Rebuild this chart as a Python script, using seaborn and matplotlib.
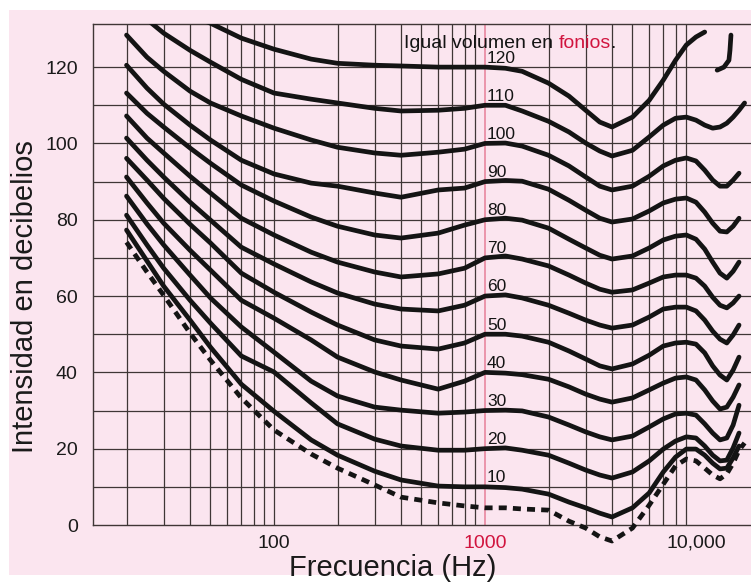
import pandas as pd
import matplotlib
matplotlib.use("Agg")
import matplotlib.pyplot as plt
from matplotlib.patches import Rectangle
from matplotlib.ticker import NullLocator
import seaborn as sns

# Frequencies (Hz) at which every contour is sampled
freq_hz = [20, 25, 30, 40, 50, 70, 100, 150, 200, 300, 400, 600, 800, 1000, 1250,
           1500, 2000, 2500, 3000, 3500, 4000, 5000, 6000, 7000, 8000, 9000,
           10000, 11000, 12000, 13000, 14000, 15000, 16000, 17000]
nan = float("nan")

# Threshold of hearing (dB)
threshold_db = [74.1, 66.3, 60.2, 50.3, 43.2, 33.3, 24.9, 18.6, 14.9, 10.5, 7.3, 5.8, 5.0, 4.5, 4.5,
                4.2, 3.9, 1.0, -0.8, -3.1, -4.2, -0.8, 5.2, 10.7, 15.5, 17.3,
                16.8, 14.9, 13.1, 12.1, 13.4, 16.2, 19.6, 21.5]

# Equal-loudness contours (dB) for each loudness level in phons
phon_10 = [77.3, 69.2, 62.6, 53.7, 46.6, 36.9, 29.8, 22.3, 18.3, 14.1, 11.8, 10.2, 10.0, 10.0, 9.8,
           9.4, 8.1, 6.0, 4.5, 3.1, 2.1, 4.5, 8.4, 13.9, 17.8, 19.9,
           19.9, 18.3, 16.2, 14.7, 14.9, 17.6, 20.7, nan]
phon_20 = [81.2, 73.4, 67.3, 58.9, 52.9, 44.3, 40.1, 32.0, 26.5, 22.5, 20.7, 19.6, 19.6, 20.0, 20.2,
           19.6, 18.3, 16.2, 14.4, 13.1, 12.3, 13.9, 16.8, 19.9, 22.0, 23.1,
           22.8, 20.7, 18.3, 16.8, 17.0, 20.2, 24.1, nan]
phon_30 = [86.2, 78.9, 73.4, 65.5, 59.5, 51.9, 45.3, 37.7, 33.8, 30.9, 30.1, 29.3, 29.6, 30.0, 30.1,
           29.9, 28.3, 26.2, 24.4, 23.1, 22.3, 23.3, 25.7, 27.8, 29.1, 29.3,
           28.8, 26.5, 24.1, 22.3, 22.8, 26.2, 31.4, nan]
phon_40 = [91.2, 84.4, 79.1, 72.0, 66.8, 58.9, 54.2, 48.5, 44.0, 40.1, 38.0, 35.6, 37.7, 40.0, 39.8,
           39.4, 38.2, 36.2, 34.3, 33.0, 32.2, 33.3, 35.4, 37.2, 38.5, 38.8,
           38.0, 35.4, 32.5, 30.4, 30.9, 33.5, 36.7, nan]
phon_50 = [96.1, 90.4, 85.6, 78.8, 73.9, 66.0, 61.0, 55.8, 52.4, 48.5, 46.9, 46.1, 47.7, 50.0, 50.0,
           49.5, 47.9, 45.6, 43.5, 41.7, 40.9, 42.2, 44.5, 46.9, 47.7, 47.9,
           47.4, 45.1, 41.7, 39.3, 38.0, 40.6, 44.0, nan]
phon_60 = [101.4, 95.6, 91.2, 84.6, 79.9, 72.8, 68.4, 63.7, 60.8, 57.9, 56.6, 56.1, 57.6, 60.0, 60.3,
           59.5, 57.6, 55.5, 53.7, 52.4, 51.6, 52.4, 54.5, 56.6, 57.1, 57.1,
           56.1, 53.7, 50.8, 48.7, 47.7, 49.8, 52.4, nan]
phon_70 = [107.2, 101.4, 97.5, 91.4, 87.0, 80.4, 76.0, 71.5, 68.9, 66.3, 65.0, 65.8, 67.3, 70.0, 70.5,
           69.7, 67.9, 65.5, 63.4, 61.8, 61.0, 61.6, 63.4, 65.0, 65.5, 65.5,
           64.7, 62.6, 59.7, 57.6, 56.9, 58.2, 60.0, nan]
phon_80 = [113.2, 107.9, 104.3, 98.8, 94.8, 89.1, 84.9, 80.7, 78.3, 76.0, 75.2, 76.5, 78.6, 80.0, 80.4,
           79.9, 77.8, 74.9, 72.6, 70.7, 69.7, 70.5, 72.6, 74.7, 75.7, 76.0,
           74.9, 72.3, 68.9, 66.0, 64.7, 66.5, 68.9, nan]
phon_90 = [120.5, 114.5, 110.3, 104.8, 100.9, 95.6, 92.0, 89.6, 88.8, 87.0, 85.9, 87.8, 88.3, 90.0, 90.3,
           90.1, 88.0, 85.1, 82.5, 80.4, 79.4, 80.2, 82.3, 84.4, 85.4, 85.7,
           84.6, 82.0, 79.1, 77.0, 76.8, 78.3, 80.4, nan]
phon_100 = [128.4, 122.6, 118.9, 113.7, 110.6, 107.2, 104.0, 100.9, 99.0, 97.5, 96.9, 97.7, 98.5, 100.0, 100.1,
            99.3, 96.9, 94.1, 91.2, 88.8, 87.8, 88.8, 91.4, 94.1, 95.6, 96.2,
            95.4, 93.0, 90.4, 88.8, 88.8, 90.4, 92.2, nan]
phon_110 = [nan, 132.5, 128.9, 124.4, 121.3, 116.8, 113.2, 111.6, 110.6, 109.2, 108.5, 108.7, 109.2, 110.0, 110.0,
            108.5, 105.8, 103.0, 100.1, 98.0, 96.7, 98.2, 101.7, 104.8, 106.6, 106.9,
            106.1, 104.8, 104.0, 104.3, 105.3, 106.9, 108.7, 110.6]
phon_120 = [nan, nan, nan, 133.6, 131.5, 127.6, 124.7, 122.1, 121.0, 120.5, 120.3, 120.0, 120.0, 120.0, 119.7,
            118.9, 115.8, 112.4, 108.7, 105.6, 104.3, 106.9, 111.3, 116.6, 121.8, 125.8,
            127.9, 129.2, nan, nan, nan, nan, nan, nan]
# Upper tail of the 120-phon contour at very high frequencies
phon_120_tail_hz = [12600, 13570, 14330, 14490, 14650]
phon_120_tail_db = [119.2, 120.0, 121.8, 124.4, 128.4]

contour_levels = [10, 20, 30, 40, 50, 60, 70, 80, 90, 100, 110, 120]
contour_values = [phon_10, phon_20, phon_30, phon_40, phon_50, phon_60,
                  phon_70, phon_80, phon_90, phon_100, phon_110, phon_120]

x_ticks = [100, 1000, 10000]
x_tick_labels = ["100", "1000", "10,000"]
y_ticks = [0, 20, 40, 60, 80, 100, 120]
grid_hz = [20, 30, 40, 50, 60, 70, 80, 90, 100,
           200, 300, 400, 500, 600, 700, 800, 900,
           2000, 3000, 4000, 5000, 6000, 7000, 8000, 9000]
grid_db = [10, 20, 30, 40, 50, 60, 70, 80, 90, 100, 110, 120]

PINK_BG = "#fbe5ef"
INK = "#141414"
GRID = "#3f3636"
RED = "#d1143e"
PINK_LINE = "#e8879f"

sns.set_theme(style="white")
plt.rcParams["font.family"] = ["Liberation Sans", "DejaVu Sans"]

W, H = 751, 583
fig = plt.figure(figsize=(W / 100, H / 100), dpi=100)
fig.patch.set_facecolor("white")
fig.add_artist(Rectangle((9 / W, 8 / H), 1 - 9 / W, 1 - 18 / H,
                         transform=fig.transFigure, facecolor=PINK_BG,
                         edgecolor="none", zorder=-10))

ax = fig.add_axes([93 / W, 58 / H, 658 / W, 501 / H])
ax.set_facecolor(PINK_BG)

# Grid drawn by hand so that 10 kHz carries a label but no rule
for f in grid_hz:
    ax.axvline(f, color=GRID, lw=0.9, zorder=1)
ax.axvline(1000, color=PINK_LINE, lw=1.2, zorder=1)
for d in grid_db:
    ax.axhline(d, color=GRID, lw=0.9, zorder=1)

# Long-form table of the solid contours
frames = []
for lvl, vals in zip(contour_levels, contour_values):
    frames.append(pd.DataFrame({"freq": freq_hz, "db": vals, "curve": str(lvl)}))
frames.append(pd.DataFrame({"freq": phon_120_tail_hz, "db": phon_120_tail_db,
                            "curve": "120-tail"}))
contours = pd.concat(frames, ignore_index=True).dropna()

sns.lineplot(data=contours, x="freq", y="db", units="curve", estimator=None,
             color=INK, linewidth=3.4, solid_capstyle="round",
             solid_joinstyle="round", ax=ax, zorder=3)

threshold = pd.DataFrame({"freq": freq_hz, "db": threshold_db})
n_before = len(ax.lines)
sns.lineplot(data=threshold, x="freq", y="db", estimator=None, color=INK,
             linewidth=3.4, linestyle=(0, (1.7, 1.3)), ax=ax, zorder=3)
for ln in ax.lines[n_before:]:
    ln.set_clip_on(False)
    ln.set_dash_capstyle("butt")

ax.set_xscale("log")
ax.set_xlim(13.87, 18230)
ax.set_ylim(0, 131.3)

ax.set_xticks(x_ticks)
ax.set_xticklabels(x_tick_labels)
ax.xaxis.set_minor_locator(NullLocator())
ax.set_yticks(y_ticks)
ax.set_yticklabels([str(v) for v in y_ticks])
ax.tick_params(axis="both", length=0, labelsize=14, labelcolor="#1a1a1a")
ax.tick_params(axis="x", pad=7)
ax.tick_params(axis="y", pad=11)
ax.get_xticklabels()[1].set_color(RED)

for side in ["left", "bottom", "top"]:
    ax.spines[side].set_color(GRID)
    ax.spines[side].set_linewidth(1.0)
    ax.spines[side].set_zorder(2)
ax.spines["right"].set_visible(False)

ax.set_xlabel("Frecuencia (Hz)", fontsize=21, color="#1a1a1a", va="center")
ax.xaxis.set_label_coords(0.456, -0.085)
ax.set_ylabel("Intensidad en decibelios", fontsize=21, color="#1a1a1a", va="center")
ax.yaxis.set_label_coords(-0.103, 0.455)

# Loudness level of each contour, just right of the 1 kHz reference
for lvl in contour_levels:
    ax.text(1022, lvl + 1.2, str(lvl), fontsize=12.5, ha="left", va="baseline",
            color=INK, zorder=4)

t1 = ax.text(413, 125.1, "Igual volumen en ", fontsize=14, ha="left",
             va="baseline", color=INK, zorder=4)
t2 = ax.annotate("fonios", xy=(1, 0), xycoords=t1, ha="left", va="bottom",
                 fontsize=14, color=RED, zorder=4)
ax.annotate(".", xy=(1, 0), xycoords=t2, ha="left", va="bottom",
            fontsize=14, color=INK, zorder=4)

fig.savefig("out.png", dpi=100)
